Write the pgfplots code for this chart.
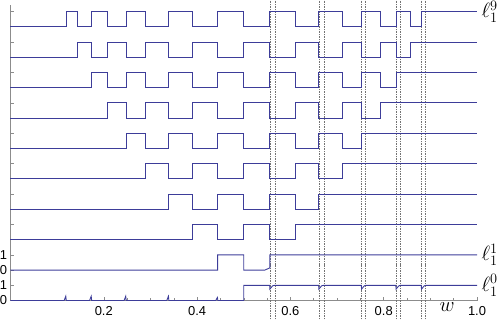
\documentclass[border=0pt]{standalone}
\usepackage{fontspec}
\usepackage{pgfplots}
\pgfplotsset{compat=1.18}
\newfontfamily\tickfont{Liberation Sans}
\definecolor{mblue}{RGB}{61,61,153}
\pgfplotsset{
  row/.style={draw=mblue, color=mblue, line width=0.9pt, mark=none},
  guide/.style={draw=black!55, line width=0.5pt, dash pattern=on 1.5pt off 1pt, mark=none},
}
\begin{document}
\begin{tikzpicture}
\begin{axis}[
  x=466.5bp, y=15.2bp,
  xmin=0, xmax=1, ymin=0, ymax=19.45,
  axis lines=left,
  axis line style={-, black!45, line width=0.5pt},
  clip=false,
  xtick={0.2,0.4,0.6,0.8,1.0},
  xticklabels={0.2,0.4,0.6,0.8,1.0},
  minor x tick num=3,
  ytick={0,1,2,3,5,7,9,11,13,15,17,19},
  yticklabels={0,1,0,1,,,,,,,,},
  tick align=inside,
  major tick length=4bp, minor tick length=2.5bp,
  tick style={black!45, line width=0.5pt},
  ticklabel style={font=\tickfont\fontsize{13}{15}\selectfont},
  xticklabel style={yshift=-5bp, inner sep=1bp},
]
% dashed guide lines
\addplot[guide] coordinates {(0.556,-1.4) (0.556,19.9)};
\addplot[guide] coordinates {(0.567,-1.4) (0.567,19.9)};
\addplot[guide] coordinates {(0.661,-1.4) (0.661,19.9)};
\addplot[guide] coordinates {(0.6725,-1.4) (0.6725,19.9)};
\addplot[guide] coordinates {(0.7525,-1.4) (0.7525,19.9)};
\addplot[guide] coordinates {(0.760,-1.4) (0.760,19.9)};
\addplot[guide] coordinates {(0.8265,-1.4) (0.8265,19.9)};
\addplot[guide] coordinates {(0.8355,-1.4) (0.8355,19.9)};
\addplot[guide] coordinates {(0.881,-1.4) (0.881,19.9)};
\addplot[guide] coordinates {(0.8895,-1.4) (0.8895,19.9)};
% row 9
\addplot[row] coordinates {
(0,18) (0.119,18) (0.119,19) (0.143,19) (0.143,18) (0.1735,18) (0.1735,19) (0.2073,19) (0.2073,18) (0.2475,18) (0.2475,19)
(0.2895,19) (0.2895,18) (0.339,18) (0.339,19) (0.3895,19) (0.3895,18) (0.444,18) (0.444,19) (0.5,19) (0.5,18)
(0.556,18) (0.556,19) (0.6105,19) (0.6105,18) (0.661,18) (0.661,19) (0.7105,19) (0.7105,18) (0.7525,18) (0.7525,19)
(0.7927,19) (0.7927,18) (0.8265,18) (0.8265,19) (0.857,19) (0.857,18) (0.881,18) (0.881,19) (1,19)};
% row 8
\addplot[row] coordinates {
(0,16) (0.143,16) (0.143,17) (0.1735,17) (0.1735,16) (0.2073,16) (0.2073,17) (0.2475,17) (0.2475,16)
(0.2895,16) (0.2895,17) (0.339,17) (0.339,16) (0.3895,16) (0.3895,17) (0.444,17) (0.444,16) (0.5,16) (0.5,17)
(0.556,17) (0.556,16) (0.6105,16) (0.6105,17) (0.661,17) (0.661,16) (0.7105,16) (0.7105,17) (0.7525,17) (0.7525,16)
(0.7927,16) (0.7927,17) (0.8265,17) (0.8265,16) (0.857,16) (0.857,17) (1,17)};
% row 7
\addplot[row] coordinates {
(0,14) (0.1735,14) (0.1735,15) (0.2073,15) (0.2073,14) (0.2475,14) (0.2475,15)
(0.2895,15) (0.2895,14) (0.339,14) (0.339,15) (0.3895,15) (0.3895,14) (0.444,14) (0.444,15) (0.5,15) (0.5,14)
(0.556,14) (0.556,15) (0.6105,15) (0.6105,14) (0.661,14) (0.661,15) (0.7105,15) (0.7105,14) (0.7525,14) (0.7525,15)
(0.7927,15) (0.7927,14) (0.8265,14) (0.8265,15) (1,15)};
% row 6
\addplot[row] coordinates {
(0,12) (0.2073,12) (0.2073,13) (0.2475,13) (0.2475,12)
(0.2895,12) (0.2895,13) (0.339,13) (0.339,12) (0.3895,12) (0.3895,13) (0.444,13) (0.444,12) (0.5,12) (0.5,13)
(0.556,13) (0.556,12) (0.6105,12) (0.6105,13) (0.661,13) (0.661,12) (0.7105,12) (0.7105,13) (0.7525,13) (0.7525,12)
(0.7927,12) (0.7927,13) (1,13)};
% row 5
\addplot[row] coordinates {
(0,10) (0.2475,10) (0.2475,11)
(0.2895,11) (0.2895,10) (0.339,10) (0.339,11) (0.3895,11) (0.3895,10) (0.444,10) (0.444,11) (0.5,11) (0.5,10)
(0.556,10) (0.556,11) (0.6105,11) (0.6105,10) (0.661,10) (0.661,11) (0.7105,11) (0.7105,10) (0.7525,10) (0.7525,11) (1,11)};
% row 4
\addplot[row] coordinates {
(0,8) (0.2895,8) (0.2895,9) (0.339,9) (0.339,8) (0.3895,8) (0.3895,9) (0.444,9) (0.444,8) (0.5,8) (0.5,9)
(0.556,9) (0.556,8) (0.6105,8) (0.6105,9) (0.661,9) (0.661,8) (0.7105,8) (0.7105,9) (1,9)};
% row 3
\addplot[row] coordinates {
(0,6) (0.339,6) (0.339,7) (0.3895,7) (0.3895,6) (0.444,6) (0.444,7) (0.5,7) (0.5,6)
(0.556,6) (0.556,7) (0.6105,7) (0.6105,6) (0.661,6) (0.661,7) (1,7)};
% row 2
\addplot[row] coordinates {
(0,4) (0.3895,4) (0.3895,5) (0.444,5) (0.444,4) (0.5,4) (0.5,5)
(0.556,5) (0.556,4) (0.6105,4) (0.6105,5) (1,5)};
% row 1
\addplot[row] coordinates {
(0,2) (0.444,2) (0.444,3) (0.5,3) (0.5,2) (0.545,2) (0.554,2.12) (0.556,2.15) (0.556,3) (1,3)};
% row 0
\addplot[row] coordinates {
(0,0) (0.115,0) (0.1185,0.28) (0.1195,0)
(0.1695,0) (0.173,0.28) (0.174,0)
(0.2435,0) (0.247,0.28) (0.248,0)
(0.335,0) (0.3385,0.28) (0.3395,0)
(0.440,0) (0.4435,0.2) (0.4445,0)
(0.5,0) (0.5,1)
(0.5555,1) (0.556,0.75) (0.562,0.97) (0.566,1)
(0.6605,1) (0.661,0.75) (0.667,0.97) (0.671,1)
(0.752,1) (0.7525,0.75) (0.7585,0.97) (0.7625,1)
(0.826,1) (0.8265,0.75) (0.8325,0.97) (0.8365,1)
(0.8805,1) (0.881,0.75) (0.887,0.97) (0.891,1)
(1,1)};
\node[anchor=west, inner sep=0pt, font=\fontsize{20.74}{24}\selectfont] at (axis cs:1.0095,19) {$\ell_1^9$};
\node[anchor=west, inner sep=0pt, font=\fontsize{20.74}{24}\selectfont] at (axis cs:1.0095,3) {$\ell_1^1$};
\node[anchor=west, inner sep=0pt, font=\fontsize{20.74}{24}\selectfont] at (axis cs:1.0095,1) {$\ell_1^0$};
\node[inner sep=0pt, font=\fontsize{20.74}{24}\selectfont] at (axis cs:0.936,-0.4) {$w$};
\coordinate (BL) at (axis cs:-0.0225,-1.217);
\coordinate (TR) at (axis cs:1.045,19.77);
\end{axis}
\pgfresetboundingbox
\useasboundingbox (BL) rectangle (TR);
\end{tikzpicture}
\end{document}
